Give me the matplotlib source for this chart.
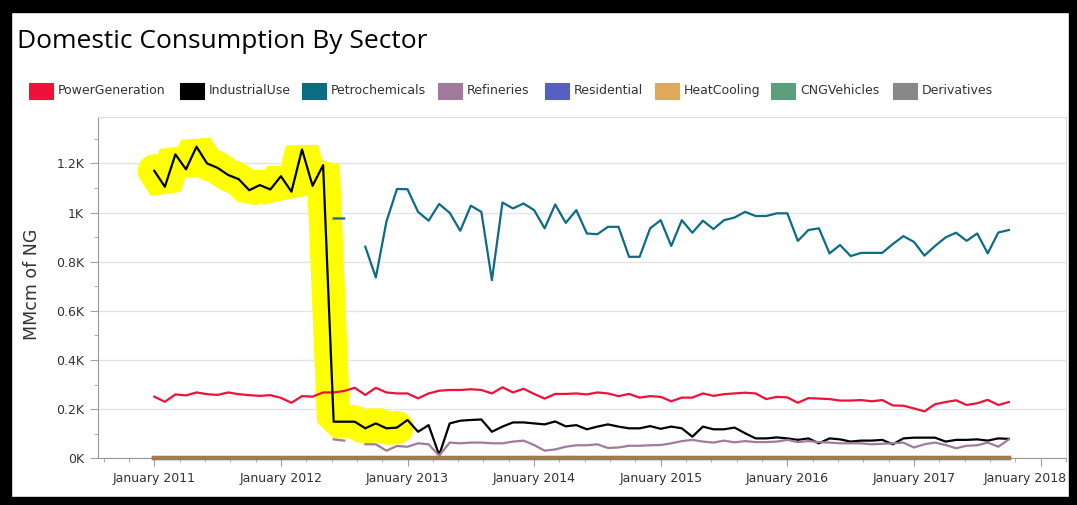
import numpy as np
import matplotlib
matplotlib.use('Agg')
import matplotlib.pyplot as plt
from matplotlib.patches import Rectangle
from matplotlib.ticker import FuncFormatter, MultipleLocator
from matplotlib.transforms import ScaledTranslation

nan = np.nan

# monthly values, MMcm of NG, Jan 2011 .. Oct 2017
power_generation = [
    251, 230, 260, 256, 268, 261, 258, 268, 261, 257, 254, 257,
    246, 226, 253, 251, 268, 268, 274, 287, 258, 287, 268, 264,
    264, 244, 264, 275, 278, 278, 281, 278, 264, 289, 268, 283,
    262, 243, 262, 262, 264, 260, 268, 264, 253, 262, 247, 253,
    250, 232, 247, 247, 264, 254, 261, 264, 267, 264, 241, 250,
    248, 226, 245, 243, 241, 235, 235, 237, 232, 237, 215, 214,
    203, 191, 220, 229, 236, 217, 224, 238, 217, 229,
]
industrial_use = [
    1170, 1105, 1237, 1176, 1268, 1200, 1182, 1153, 1136, 1091, 1112, 1094,
    1148, 1085, 1257, 1109, 1193, 149, 149, 149, 122, 142, 122, 125,
    156, 108, 135, 13, 142, 153, 156, 158, 108, 129, 146, 146,
    142, 138, 150, 130, 135, 118, 129, 138, 129, 122, 122, 131,
    120, 129, 122, 88, 129, 118, 118, 125, 102, 81, 81, 85,
    81, 75, 81, 61, 81, 77, 68, 72, 72, 75, 57, 81,
    84, 84, 84, 68, 75, 75, 77, 72, 81, 79,
]
petrochemicals = [
    nan, nan, nan, nan, nan, nan, nan, nan, nan, nan, nan, nan,
    nan, nan, nan, nan, nan, 976, 976, nan, 861, 736, 963, 1096,
    1095, 1003, 967, 1035, 999, 926, 1028, 1003, 725, 1041, 1017, 1037,
    1010, 936, 1033, 958, 1010, 915, 912, 942, 942, 820, 820, 936,
    969, 864, 969, 918, 967, 933, 969, 980, 1003, 986, 986, 997,
    997, 885, 929, 936, 834, 868, 823, 836, 836, 836, 872, 904,
    881, 825, 864, 899, 918, 885, 915, 834, 919, 929,
]
refineries = [
    nan, nan, nan, nan, nan, nan, nan, nan, nan, nan, nan, nan,
    nan, nan, nan, nan, nan, 77, 72, nan, 57, 57, 31, 50,
    47, 61, 57, 11, 64, 61, 64, 64, 61, 61, 68, 72,
    54, 31, 36, 47, 53, 53, 57, 42, 44, 51, 51, 53,
    54, 61, 70, 75, 68, 64, 72, 65, 70, 66, 66, 68,
    75, 66, 70, 66, 64, 61, 61, 61, 57, 59, 61, 64,
    44, 57, 64, 54, 41, 51, 53, 64, 47, 77,
]
residential = [0] * 82
heat_cooling = [0] * 82
cng_vehicles = [0] * 82
derivatives = [0] * 82

sectors = ['PowerGeneration', 'IndustrialUse', 'Petrochemicals', 'Refineries',
           'Residential', 'HeatCooling', 'CNGVehicles', 'Derivatives']
colors = ['#f0103a', '#000000', '#0b6c84', '#a27a9c',
          '#5560c0', '#e0a85a', '#5c9e7e', '#888888']
series = [power_generation, industrial_use, petrochemicals, refineries,
          residential, heat_cooling, cng_vehicles, derivatives]
years = list(range(2011, 2019))

W, H = 1077, 505
months = 2011 + np.arange(82) / 12.0

fig = plt.figure(figsize=(W / 100, H / 100), dpi=100)
plt.rcParams['font.family'] = ['DejaVu Sans']
ax = fig.add_axes([98 / W, 1 - 458.3 / H, (1066 - 98) / W, (458.3 - 117) / H])

# the hand drawn highlight over the first two years of industrial use
ax.plot(months[:24], industrial_use[:24], color='#ffff00', lw=24,
        solid_joinstyle='bevel', solid_capstyle='round', zorder=1)

# zero series first, heat cooling drawn last (brown line on the axis)
zero_line = {'Residential': '#5560c0', 'CNGVehicles': '#5c9e7e',
             'Derivatives': '#888888', 'HeatCooling': '#a37b4b'}
for name in ['Residential', 'CNGVehicles', 'Derivatives', 'HeatCooling']:
    ax.plot(months, series[sectors.index(name)], color=zero_line[name],
            lw=3, zorder=3, clip_on=False)

for i in range(4):
    ax.plot(months, series[i], color=colors[i], lw=1.6, zorder=4)

ax.set_xlim(2011 + (98 - 154.3) / 126.6, 2011 + (1066 - 154.3) / 126.6)
ax.set_ylim(0, 1389)
ax.set_xticks(years)
ax.set_xticklabels(['January %d' % y for y in years])
ax.xaxis.set_minor_locator(MultipleLocator(0.2))
ax.yaxis.set_major_locator(MultipleLocator(200))
ax.yaxis.set_minor_locator(MultipleLocator(100))
ax.yaxis.set_major_formatter(FuncFormatter(lambda v, p: '%gK' % (v / 1000)))
ax.grid(axis='y', color='#e4e4e4', lw=1, zorder=0)
ax.set_axisbelow(True)
ax.tick_params(axis='both', which='major', length=6, color='#a0a0a0',
               labelsize=9, labelcolor='#333333', pad=4)
ax.tick_params(axis='both', which='minor', length=3, color='#a0a0a0')
for s in ['top', 'right']:
    ax.spines[s].set_color('#dcdcdc')
for s in ['left', 'bottom']:
    ax.spines[s].set_color('#999999')

# last label is pushed left so it stays inside the chart
last = ax.get_xticklabels()[-1]
last.set_transform(last.get_transform() + ScaledTranslation(-0.15, 0, fig.dpi_scale_trans))

fig.text(32 / W, 1 - 284 / H, 'MMcm of NG', rotation=90, ha='center',
         va='center', fontsize=12.5, color='#333333')
fig.text(17 / W, 1 - 42 / H, 'Domestic Consumption By Sector',
         fontsize=19, family='Open Sans', va='center', ha='left')

# legend row
legend_x = [29, 180, 302, 438, 545, 655, 771, 893]
for x, name, c in zip(legend_x, sectors, colors):
    fig.add_artist(Rectangle((x / W, 1 - 99 / H), 24 / W, 16 / H,
                             transform=fig.transFigure, facecolor=c,
                             edgecolor=c, lw=0.8))
    fig.text((x + 29) / W, 1 - 91 / H, name, fontsize=9,
             color='#333333', va='center', ha='left')

# black frame around the screenshot
for x0, y0, w, h in [(0, 0, W, 8), (0, H - 12, W, 12),
                     (0, 0, 11, H), (W - 8, 0, 8, H)]:
    fig.add_artist(Rectangle((x0 / W, y0 / H), w / W, h / H,
                             transform=fig.transFigure, color='black'))

fig.savefig('out.png', dpi=100)
